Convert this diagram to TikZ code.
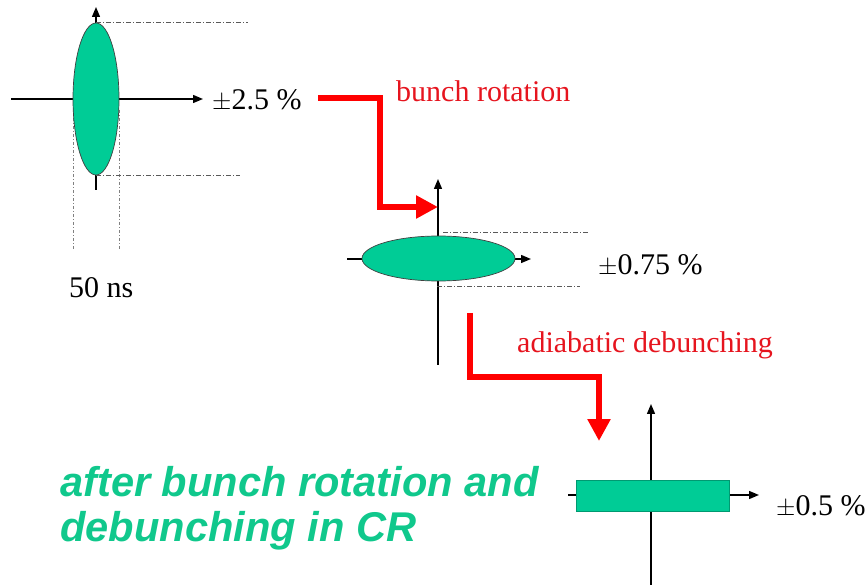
\documentclass[tikz,border=0pt]{standalone}
\usepackage{fontspec}
\setmainfont{Liberation Serif}
\newfontfamily\headfont{Liberation Sans}
\usetikzlibrary{shapes.geometric,arrows.meta}
\definecolor{bgreen}{RGB}{0,204,150}
\definecolor{tgreen}{RGB}{16,200,140}
\definecolor{lred}{RGB}{230,20,30}
\begin{document}
\begin{tikzpicture}[x=1pt,y=-1pt,
  axis/.style={line width=1.4pt,-{Triangle[length=10pt,width=8pt]}},
  guide/.style={black!65,line width=0.9pt,dash pattern=on 5pt off 2pt on 1pt off 2pt},
  vguide/.style={black!50,line width=1pt,dash pattern=on 3pt off 2pt on 1pt off 2pt},
  bunch/.style={draw=black!75,line width=0.7pt,fill=bgreen,inner sep=0pt},
  flow/.style={red,line width=6pt,-{Triangle[length=22pt,width=22pt]}},
  lbl/.style={font=\fontsize{30}{34}\selectfont,inner sep=0pt,anchor=base west},
  rlbl/.style={lbl,text=lred},
  title/.style={font=\headfont\bfseries\itshape\fontsize{41.6}{46}\selectfont,text=tgreen,inner sep=0pt,anchor=base west}]
\useasboundingbox (0,0) rectangle (868,585);
% ---------- diagram 1 ----------
\coordinate (h1w) at (11,99);
\coordinate (h1e) at (203,99);
\coordinate (v1s) at (96,190);
\coordinate (v1n) at (96,7);
\coordinate (g1a) at (248,23);
\coordinate (g1b) at (240,175);
\coordinate (g1l) at (73,250);
\coordinate (g1r) at (119,250);
\coordinate (g1lt) at (73,110);
\coordinate (g1rt) at (119,110);
\draw[vguide] (g1lt) -- (g1l);
\draw[vguide] (g1rt) -- (g1r);
\draw[axis] (h1w) -- (h1e);
\draw[axis] (v1s) -- (v1n);
\node[bunch,ellipse,minimum width=46pt,minimum height=152pt] (b1) at (96,99) {};
\draw[guide] (b1.north) -- (g1a |- b1.north);
\draw[guide] (b1.south) -- (g1b |- b1.south);
\node[lbl] (l1) at (212,110) {$\pm$2.5 \%};
\node[lbl] (ns) at (69,298) {50 ns};
% ---------- diagram 2 ----------
\coordinate (h2w) at (347,259);
\coordinate (h2e) at (531,259);
\coordinate (v2s) at (438,365);
\coordinate (v2n) at (438,179);
\draw[axis] (h2w) -- (h2e);
\draw[axis] (v2s) -- (v2n);
\node[bunch,ellipse,minimum width=153pt,minimum height=45pt] (b2) at (438.5,258.5) {};
\coordinate (g2a0) at (443,232);
\coordinate (g2a) at (588,232);
\coordinate (g2b0) at (437,286);
\coordinate (g2b) at (580,286);
\draw[guide] (g2a0) -- (g2a);
\draw[guide] (g2b0) -- (g2b);
\node[lbl] (l2) at (598,275) {$\pm$0.75 \%};
% ---------- diagram 3 ----------
\coordinate (h3w) at (568,495);
\coordinate (h3e) at (759,495);
\coordinate (v3s) at (651,585);
\coordinate (v3n) at (651,404);
\draw[axis] (h3w) -- (h3e);
\draw[axis] (v3s) -- (v3n);
\node[draw=bgreen!75!black,line width=0.6pt,fill=bgreen,inner sep=0pt,minimum width=153pt,minimum height=31pt] (b3) at (652.5,495.5) {};
\node[lbl] (l3) at (776,515) {$\pm$0.5 \%};
% ---------- red flow arrows ----------
\node[rlbl] (rot) at (396,102) {bunch rotation};
\node[rlbl] (deb) at (517,353) {adiabatic debunching};
\coordinate (r1s) at (318,98);
\coordinate (r1c) at (380,207);
\coordinate (r1t) at (438,207);
\draw[flow] (r1s) -| (r1c) -- (r1t);
\coordinate (r2s) at (470,313);
\coordinate (r2c) at (599,377);
\coordinate (r2t) at (599,441);
\draw[flow] (r2s) |- (r2c) -- (r2t);
% ---------- caption ----------
\node[title] (t1) at (60,496) {after bunch rotation and};
\node[title] (t2) at (60,541) {debunching in CR};
\end{tikzpicture}
\end{document}
